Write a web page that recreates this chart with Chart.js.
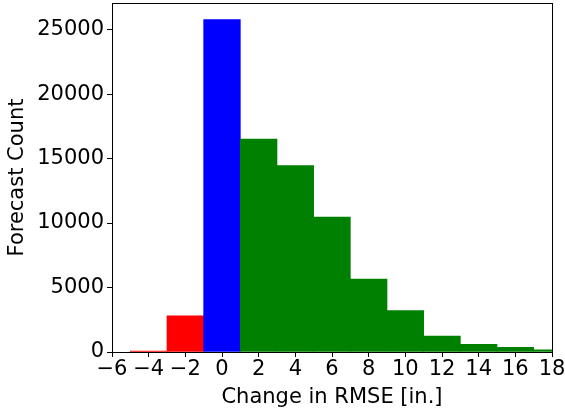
<!DOCTYPE html>
<html>
<head>
<meta charset="utf-8">
<script src="https://cdn.jsdelivr.net/npm/chart.js@4/dist/chart.umd.min.js"></script>
<style>
html,body{margin:0;padding:0;background:#fff;}
#wrap{width:565px;height:412px;position:relative;}
</style>
</head>
<body>
<div id="wrap"><canvas id="c" width="565" height="412"></canvas></div>
<script>
const binCenters = [-4, -2, 0, 2, 4, 6, 8, 10, 12, 14, 16, 18];
const counts = [70, 2800, 25770, 16500, 14460, 10460, 5650, 3220, 1240, 600, 360, 170];
const groups = ['worse','worse','same','better','better','better','better','better','better','better','better','better'];
const groupColors = {worse:'#ff0000', same:'#0000ff', better:'#008000'};
const xTicks = [-6,-4,-2,0,2,4,6,8,10,12,14,16,18];
const yTicks = [0,5000,10000,15000,20000,25000];
const xTitle = 'Change in RMSE [in.]';
const yTitle = 'Forecast Count';

const FONT = "'DejaVu Sans', sans-serif";
const FS = 21;

const frame = {
  id:'frame',
  afterDraw(chart){
    const a = chart.chartArea, ctx = chart.ctx;
    ctx.save();
    ctx.strokeStyle = '#000';
    ctx.lineWidth = 1;
    ctx.strokeRect(Math.round(a.left)+0.5, Math.round(a.top)+0.5, Math.round(a.right-a.left), Math.round(a.bottom-a.top));
    ctx.restore();
  }
};

new Chart(document.getElementById('c'), {
  type:'bar',
  data:{
    datasets:[{
      data: binCenters.map((x,i)=>({x:x, y:counts[i]})),
      backgroundColor: groups.map(g=>groupColors[g]),
      borderWidth:0,
      barPercentage:1,
      categoryPercentage:1
    }]
  },
  options:{
    responsive:false,
    animation:false,
    devicePixelRatio:1,
    layout:{padding:{left:0,right:13,top:3,bottom:0}},
    plugins:{legend:{display:false},tooltip:{enabled:false}},
    scales:{
      x:{
        type:'linear',
        min:-6, max:18,
        offset:false,
        afterBuildTicks(s){ s.ticks = xTicks.map(v=>({value:v})); },
        afterFit(s){ s.height = 60; s.paddingLeft = 0; s.paddingRight = 0; },
        ticks:{
          font:{family:FONT,size:FS}, color:'#000', padding:0,
          maxRotation:0, autoSkip:false,
          callback:(v)=> (v<0? '\u2212'+Math.abs(v) : String(v))
        },
        grid:{drawOnChartArea:false, offset:false, tickLength:5, tickColor:'#000', tickWidth:1},
        border:{display:true,color:'#000'},
        title:{display:true,text:xTitle,font:{family:FONT,size:FS},color:'#000',padding:{top:0,bottom:2}}
      },
      y:{
        min:0, max:27060,
        afterBuildTicks(s){ s.ticks = yTicks.map(v=>({value:v})); },
        afterFit(s){ s.width = 112; s.paddingTop = 0; s.paddingBottom = 0; },
        ticks:{font:{family:FONT,size:FS}, color:'#000', padding:3, autoSkip:false,
          callback:(v)=>String(v)},
        grid:{drawOnChartArea:false, tickLength:5, tickColor:'#000', tickWidth:1},
        border:{display:true,color:'#000'},
        title:{display:true,text:yTitle,font:{family:FONT,size:FS},color:'#000',padding:{top:4.5,bottom:0}}
      }
    }
  },
  plugins:[frame]
});
</script>
</body>
</html>
